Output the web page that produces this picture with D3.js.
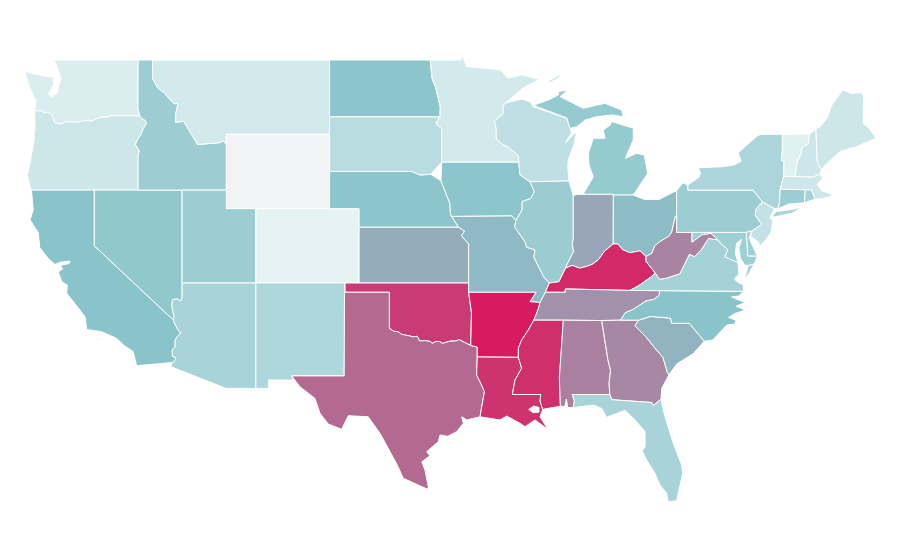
<!DOCTYPE html>
<html>
<head>
<meta charset="utf-8">
<script src="https://cdn.jsdelivr.net/npm/d3@7"></script>
<style>
  html, body { margin: 0; background: #fff; }
  path.state { stroke: #fff; stroke-width: 1; stroke-linejoin: round; fill-rule: evenodd; }
</style>
</head>
<body>
<svg id="map" width="900" height="560"></svg>
<script>
// values, 0-100
const stateNames = ["Washington","Oregon","California","Nevada","Idaho","Montana","Wyoming","Utah","Colorado","Arizona","New Mexico","North Dakota","South Dakota","Nebraska","Kansas","Oklahoma","Texas","Minnesota","Iowa","Missouri","Arkansas","Louisiana","Wisconsin","Illinois","Michigan","Indiana","Ohio","Kentucky","Tennessee","Mississippi","Alabama","Georgia","Florida","South Carolina","North Carolina","Virginia","West Virginia","Pennsylvania","New York","Maryland","Delaware","New Jersey","Connecticut","Rhode Island","Massachusetts","Vermont","New Hampshire","Maine"];
const stateValues = [15,20.5,50,47,42,18,0,42,10,37,34,49,30,49,57,90.5,77,18,49,53,100,93,27,43,45,59,52,96,65,94,70,68,37,55,50,38.5,69,42,35.5,41,41,24.5,42,38,20,12,21,20.5];
const colorStops = [0,10,50,100];
const colorRange = ["#f2f3f5","#e5f3f4","#8ac4cb","#d81b60"];

// shared borders, [lon, lat]
const columbia = [[-124.05,46.27],[-123.55,46.26],[-123.37,46.15],[-123.17,46.19],[-122.9,46.08],[-122.8,45.85],[-122.7,45.63],[-122.3,45.55],[-121.9,45.68],[-121.2,45.65],[-120.65,45.74],[-120.2,45.72],[-119.6,45.92],[-119,45.93],[-118.98,46],[-116.92,46]];
const snake = [[-116.92,46],[-116.78,45.85],[-116.55,45.75],[-116.46,45.6],[-116.67,45.32],[-116.85,44.95],[-117.05,44.75],[-117.22,44.45],[-117.03,44.24],[-116.95,44.1],[-117.03,43.83],[-117.03,42]];
const idMt = [[-116.05,49],[-116.05,48],[-115.7,47.5],[-115.3,47.25],[-114.95,46.95],[-114.6,46.65],[-114.33,46.65],[-114.47,46.15],[-114.5,45.65],[-113.95,45.7],[-113.8,45.52],[-113.45,45.05],[-113.1,44.6],[-113,44.45],[-112.3,44.5],[-111.5,44.55],[-111.25,44.65],[-111.05,44.47]];
const nvAz = [[-114.05,37],[-114.05,36.2],[-114.15,36.03],[-114.4,36.15],[-114.7,36.1],[-114.75,35.8],[-114.68,35.5],[-114.58,35.15],[-114.63,35]];
const caAz = [[-114.63,35],[-114.57,34.85],[-114.3,34.45],[-114.14,34.3],[-114.4,34.1],[-114.53,33.9],[-114.52,33.55],[-114.72,33.4],[-114.7,33.05],[-114.5,33],[-114.47,32.9],[-114.72,32.72]];
const redRiver = [[-100,34.56],[-99.7,34.4],[-99.4,34.38],[-99.2,34.25],[-98.95,34.2],[-98.6,34.15],[-98.4,34.1],[-98.1,34.13],[-97.95,33.88],[-97.6,33.9],[-97.2,33.85],[-97.1,33.75],[-96.85,33.85],[-96.6,33.85],[-96.4,33.75],[-95.9,33.87],[-95.5,33.88],[-95.25,33.95],[-94.9,33.8],[-94.48,33.64]];
const sabine = [[-94.04,33.02],[-94.08,32.05],[-93.8,31.6],[-93.55,31.15],[-93.7,30.5],[-93.85,29.8]];
const mnWi = [[-92.16,46.67],[-92.29,46.5],[-92.29,46.1],[-92.87,45.7],[-92.75,45.3],[-92.75,44.75],[-92.3,44.45],[-91.9,44.3],[-91.25,43.85],[-91.22,43.5]];
const iaWi = [[-91.22,43.5],[-91.14,42.81],[-90.46,42.45]];
const iaIl = [[-90.46,42.45],[-90.17,41.91],[-90.4,41.55],[-91,41.38],[-91,40.93],[-91.42,40.38]];
const moIl = [[-91.42,40.38],[-91.5,40],[-90.8,39.22],[-90.7,38.93],[-90.12,38.78],[-90.2,38.4],[-89.9,37.9],[-89.5,37.3],[-89.15,37]];
const arTn = [[-89.78,35.95],[-89.9,35.6],[-90.1,35.2],[-90.2,35]];
const arMs = [[-90.2,35],[-90.58,34.47],[-91.03,33.93],[-91.25,33.49],[-91.25,33]];
const laMs = [[-91.25,33],[-91.03,32.41],[-91.48,31.78],[-91.66,31]];
const pearl = [[-91.66,31],[-89.73,31],[-89.78,30.65],[-89.6,30.2]];
const ohioIl = [[-89.15,37],[-88.5,37.07],[-88.05,37.8]];
const ohioIn = [[-88.05,37.8],[-87.6,37.95],[-87.1,37.8],[-86.6,37.9],[-86.25,38],[-85.8,38.27],[-85.4,38.72],[-84.82,39.1]];
const ohioOh = [[-84.82,39.1],[-84.5,39.1],[-84.2,38.8],[-83.7,38.63],[-83,38.73],[-82.6,38.42]];
const ohioWv = [[-82.6,38.42],[-82.2,38.6],[-82,39],[-81.7,39.2],[-81,39.55],[-80.85,39.75],[-80.6,40.6],[-80.52,40.64]];
const wabash = [[-87.53,41.7],[-87.53,39.35],[-87.6,39.1],[-87.5,38.7],[-87.95,38],[-88.05,37.8]];
const kyWv = [[-82.6,38.42],[-82.6,38.17],[-81.97,37.54]];
const kyVa = [[-81.97,37.54],[-82.3,37.3],[-83.1,36.85],[-83.68,36.6]];
const tnNc = [[-81.68,36.59],[-81.7,36.35],[-82.05,36.12],[-82.6,36.03],[-83.1,35.77],[-83.5,35.57],[-84,35.4],[-84.32,35]];
const ncSc = [[-78.65,33.87],[-79.66,34.83],[-80.86,34.83],[-80.93,35.1],[-81.09,35.12],[-82.3,35.2],[-83.1,35]];
const savannah = [[-83.1,35],[-83.35,34.7],[-82.6,34.1],[-82,33.5],[-81.45,33],[-81.15,32.2],[-81.05,32.05]];
const gaAl = [[-85.6,34.98],[-85.18,32.87],[-85,32.3],[-85.1,31.6],[-85.05,31]];
const gaFl = [[-85.05,31],[-84.92,30.72],[-82.2,30.57],[-82.1,30.4],[-81.58,30.75]];
const alFl = [[-85.05,31],[-87.6,31],[-87.45,30.65],[-87.53,30.3]];
const vaWv = [[-77.72,39.32],[-78.35,39.4],[-78.85,38.8],[-79.3,38.42],[-79.65,38.55],[-80.3,37.5],[-81.25,37.25],[-81.68,37.2],[-81.97,37.54]];
const potomacN = [[-77.72,39.32],[-78.2,39.68],[-78.8,39.6],[-79.48,39.2]];
const potomacS = [[-77.72,39.32],[-77.5,39.1],[-77.05,38.8],[-77.25,38.4],[-76.95,38.3],[-76.35,38.1]];
const delaware = [[-75.35,42],[-74.7,41.36],[-75.13,40.98],[-75.2,40.65],[-74.73,40.15],[-75.42,39.8]];
const ctRiver = [[-71.5,45.01],[-71.6,44.5],[-72.05,44.25],[-72.05,44],[-72.3,43.6],[-72.45,43],[-72.46,42.73]];
const nyVt = [[-73.35,45],[-73.35,44.2],[-73.43,43.6],[-73.25,43.55],[-73.26,42.75]];
const missouriSd = [[-96.45,43.5],[-96.5,42.5]];
const missouriNe = [[-96.5,42.5],[-96.1,41.7],[-95.9,41.3],[-95.85,40.7],[-95.77,40.58]];
const moKs = [[-95.77,40.58],[-95.3,40],[-94.9,39.8],[-95.1,39.55],[-94.9,39.35],[-94.62,39.1]];
const redNorth = [[-97.23,49],[-97.1,48],[-96.85,47.5],[-96.55,46.5],[-96.56,45.94]];
const mnSd = [[-96.56,45.94],[-96.85,45.6],[-96.45,45.3],[-96.45,43.5]];

const rev = a => a.slice().reverse();
const ring = (...parts) => parts.flat();

// each state is a list of rings
const stateRings = {
  "Washington": [ring([[-122.76,49],[-117.03,49],[-117.04,46.42]], rev(columbia), [[-123.95,46.85],[-124.1,47],[-124.35,47.45],[-124.72,48.38],[-123.23,48.1],[-122.8,48.1],[-122.75,47.7],[-123.1,47.2],[-122.95,47.03],[-122.5,47.2],[-122.4,47.7],[-122.25,47.95],[-122.45,48.5],[-122.6,48.8]])],
  "Oregon": [ring(columbia, snake, [[-124.3,42],[-124.54,42.8],[-124.4,43.3],[-124.1,44.6],[-124.02,45.4]])],
  "California": [
    ring([[-124.3,42],[-120,42],[-120,39]], caAz, [[-117.13,32.55],[-117.36,33.3],[-118,33.65],[-118.48,34.02],[-119.5,34.38],[-120.52,34.5],[-120.63,35.19],[-121.87,36.45],[-121.83,36.89],[-122.2,37.07],[-122.45,37.6],[-122.15,37.75],[-122.3,37.95],[-121.7,38.05],[-121.65,38.18],[-122.3,38.12],[-122.67,38],[-123.1,38.3],[-123.7,38.9],[-123.8,39.7],[-124.36,40.4],[-124.14,40.93],[-124.25,41.9]]),
    [[-119.9,34],[-119.55,34],[-119.55,33.95],[-119.9,33.95]]
  ],
  "Nevada": [ring([[-120,42],[-114.05,42]], nvAz, [[-120,39]])],
  "Idaho": [ring([[-117.03,49]], idMt, [[-111.05,42]], rev(snake), [[-117.04,46.42]])],
  "Montana": [ring(idMt, [[-111.05,45],[-104.05,45],[-104.05,49]])],
  "Wyoming": [[[-111.05,45],[-104.05,45],[-104.05,41],[-111.05,41]]],
  "Utah": [[[-114.05,42],[-111.05,42],[-111.05,41],[-109.05,41],[-109.05,37],[-114.05,37]]],
  "Colorado": [[[-109.05,41],[-102.05,41],[-102.05,37],[-109.05,37]]],
  "Arizona": [ring([[-114.05,37],[-109.05,37],[-109.05,31.33],[-111.07,31.33],[-114.81,32.5]], rev(caAz), rev(nvAz))],
  "New Mexico": [[[-109.05,37],[-103,37],[-103.06,32],[-106.62,32],[-106.53,31.78],[-108.2,31.78],[-108.2,31.33],[-109.05,31.33]]],
  "North Dakota": [ring([[-104.05,49]], redNorth, [[-104.05,45.94]])],
  "South Dakota": [ring([[-104.05,45.94]], mnSd, rev(missouriSd), [[-97.2,42.85],[-97.9,42.8],[-98.5,43],[-104.05,43]])],
  "Nebraska": [ring([[-104.05,43],[-98.5,43],[-97.9,42.8],[-97.2,42.85]], missouriNe, [[-95.3,40],[-102.05,40],[-102.05,41],[-104.05,41]])],
  "Kansas": [ring([[-102.05,40]], moKs.slice(1), [[-94.62,37],[-102.05,37]])],
  "Oklahoma": [ring([[-103,37],[-94.62,37],[-94.62,36.5],[-94.43,35.4]], rev(redRiver), [[-100,36.5],[-103,36.5]])],
  "Texas": [ring([[-103.04,36.5],[-100,36.5]], redRiver, [[-94.04,33.55]], sabine, [[-94.75,29.63],[-95.09,29.8],[-94.98,29.45],[-95.43,29],[-96.05,28.75],[-96.56,28.82],[-96.68,28.46],[-97.47,27.92],[-97.25,27.7],[-97.8,27.38],[-97.58,26.93],[-97.36,26.04],[-97.4,25.9],[-99.05,26.49],[-99.46,27.2],[-99.95,27.92],[-100.63,28.91],[-101.43,29.8],[-102.78,29.86],[-103.23,29.13],[-104.14,29.41],[-104.7,29.99],[-105.04,30.79],[-106.06,31.42],[-106.62,32],[-103.06,32]])],
  "Minnesota": [ring([[-97.23,49],[-95.15,49],[-95.09,49.3],[-94.75,48.64],[-93.5,48.56],[-92.5,48.47],[-91.93,48.02],[-91.03,48.2],[-89.8,47.96],[-90.92,47.5]], mnWi, rev(mnSd), rev(redNorth))],
  "Iowa": [ring([[-96.45,43.5]], iaWi, iaIl, [[-91.73,40.61]], rev(missouriNe))],
  "Missouri": [ring([[-95.77,40.58],[-91.73,40.61]], moIl, [[-89.42,36.5],[-89.78,35.95],[-90.46,36],[-90.05,36.5],[-94.62,36.5]], rev(moKs))],
  "Arkansas": [ring([[-94.62,36.5],[-90.05,36.5],[-90.46,36]], arTn, arMs, [[-94.04,33.02],[-94.04,33.55],[-94.48,33.64],[-94.43,35.4]])],
  "Louisiana": [ring([[-94.04,33.02]], laMs, pearl, [[-89.78,29.8],[-89.25,29.12],[-90.12,29.63],[-90.8,29.27],[-91.14,29.45],[-92.04,29.84],[-92.5,29.63],[-93.85,29.8]], rev(sabine).slice(1)), [[-90.55,30.2],[-90.2,30.38],[-89.85,30.3],[-89.85,30.05],[-90.25,30.02]]],
  "Wisconsin": [ring(mnWi, iaWi, [[-87.82,42.49],[-87.9,43.26],[-87.87,43.62],[-87.5,44.4],[-87.3,45.14],[-87.7,44.85],[-88.04,44.55],[-87.65,45.1],[-87.75,45.33],[-87.97,45.86],[-90.24,46.49],[-90.4,46.72],[-91,46.9]])],
  "Illinois": [ring(iaIl, moIl, ohioIl, rev(wabash), [[-87.82,42.49]])],
  "Michigan": [
    [[-90.24,46.56],[-87.97,45.88],[-87.75,45.33],[-87.3,45.4],[-86.73,45.77],[-85.93,45.95],[-84.92,46.04],[-84.13,45.95],[-84.25,46.31],[-84.81,46.49],[-85.38,46.67],[-86.85,46.4],[-87.97,46.85],[-88.42,47.03],[-87.87,47.39],[-88.54,47.3],[-88.54,47.12],[-89.22,46.85]],
    [[-86.87,41.77],[-84.81,41.77],[-84.81,41.73],[-83.46,41.73],[-83.15,42.1],[-82.48,42.9],[-82.72,43.89],[-83.23,43.98],[-84,43.71],[-83.46,44.7],[-83.46,45.33],[-84.92,45.69],[-85.03,45.5],[-85.49,45.23],[-85.38,44.79],[-86.17,44.79],[-86.5,43.98],[-86.46,43.35],[-86.17,42.72],[-86.62,42.1]],
    [[-89.2,47.85],[-88.5,48.17],[-88.45,48.1],[-89.1,47.8]]
  ],
  "Indiana": [ring(wabash, ohioIn, [[-84.81,41.77],[-87.3,41.77]])],
  "Ohio": [ring([[-84.81,41.73],[-83.46,41.73],[-82.7,41.5],[-81.7,41.5],[-80.52,41.98]], rev(ohioWv), rev(ohioOh))],
  "Kentucky": [ring(ohioIl, ohioIn, ohioOh, kyWv, kyVa, [[-88.07,36.68],[-88.07,36.5],[-89.42,36.5]])],
  "Tennessee": [ring([[-89.42,36.5],[-88.07,36.5],[-88.07,36.68],[-83.68,36.6]], tnNc, [[-85.6,34.98],[-88.2,35]], rev(arTn))],
  "Mississippi": [ring([[-90.2,35],[-88.2,35],[-88.47,31.9],[-88.4,30.37]], rev(pearl), rev(laMs), rev(arMs))],
  "Alabama": [ring([[-88.2,35]], gaAl, alFl, [[-87.9,30.3],[-88,30.75],[-88.1,30.35],[-88.4,30.37],[-88.47,31.9]])],
  "Georgia": [ring([[-85.6,34.98],[-84.32,35]], savannah, [[-81.53,31.33]], rev(gaFl), rev(gaAl))],
  "Florida": [ring(gaFl, [[-81.53,30.52],[-81.31,29.8],[-80.75,28.37],[-80.18,27.2],[-80.11,26.76],[-80.52,25.28],[-81.09,25.23],[-81.2,25.68],[-81.65,26.13],[-81.99,26.76],[-82.55,27.47],[-82.85,27.97],[-82.66,28.19],[-82.66,29],[-83.34,29.63],[-84.03,30.15],[-84.59,29.98],[-85.26,29.77],[-85.6,30.25],[-86.17,30.43]], rev(alFl))],
  "South Carolina": [ring(ncSc, savannah, [[-80.52,32.64],[-79.39,33.2]])],
  "North Carolina": [ring([[-81.68,36.59],[-76,36.55],[-76.3,36.3],[-76.8,36.25],[-76.2,36.05],[-75.85,35.95],[-76.5,35.75],[-75.85,35.55],[-76.6,35.35],[-77,35.15],[-76.5,35],[-76.56,34.79],[-77.12,34.74],[-78.07,33.93]], ncSc, [[-84.32,35]], rev(tnNc))],
  "Virginia": [
    ring(rev(kyVa), rev(vaWv), potomacS, [[-76.35,37.95],[-76.3,37.5],[-76.6,37.2],[-76.3,37],[-76,36.92],[-76,36.55],[-81.68,36.59]]),
    [[-75.65,37.95],[-75.25,38.03],[-75.6,37.55],[-75.95,37.15]]
  ],
  "West Virginia": [ring(rev(ohioWv), kyWv, rev(vaWv), potomacN, [[-79.48,39.72],[-80.52,39.72]])],
  "Pennsylvania": [ring([[-80.52,41.98],[-80.08,42.39],[-79.76,42.27],[-79.76,42]], delaware, [[-75.79,39.72],[-79.48,39.72],[-80.52,39.72],[-80.52,40.64]])],
  "New York": [
    ring([[-79.76,42.27],[-79,42.7],[-78.9,42.9],[-79.05,43.2],[-77.5,43.25],[-76.6,43.35],[-76.15,43.55],[-76.35,44],[-75.8,44.4],[-75,44.95],[-74.7,45]], nyVt, [[-73.5,42.05],[-73.55,41.3],[-73.65,41],[-73.9,41],[-74.7,41.36],[-75.35,42],[-79.76,42]]),
    [[-74.05,40.6],[-73.75,40.85],[-72.6,40.97],[-72,41.1],[-72.7,40.75],[-73.9,40.55]]
  ],
  "Maryland": [ring([[-79.48,39.72],[-75.79,39.72],[-75.7,38.46],[-75.05,38.45],[-75.25,38.03],[-75.65,37.95],[-75.9,37.95],[-76.2,38.35],[-76.3,38.9],[-76.1,39.35],[-76.45,39.15],[-76.55,38.6]], rev(potomacS), potomacN)],
  "Delaware": [[[-75.79,39.72],[-75.42,39.8],[-75.6,39.45],[-75.4,39.05],[-75.05,38.45],[-75.7,38.46]]],
  "New Jersey": [ring([[-74.7,41.36],[-73.9,41],[-74.2,40.5],[-74,40.4],[-74.1,39.75],[-74.4,39.4],[-74.9,38.95],[-74.95,39.2],[-75.5,39.5]], rev(delaware).slice(0,-2))],
  "Connecticut": [[[-73.5,42.05],[-71.8,42.02],[-71.85,41.32],[-72.9,41.25],[-73.65,41],[-73.55,41.3]]],
  "Rhode Island": [[[-71.8,42.02],[-71.38,42.02],[-71.12,41.5],[-71.4,41.45],[-71.85,41.32]]],
  "Massachusetts": [[[-73.5,42.05],[-73.26,42.75],[-72.46,42.73],[-71.3,42.7],[-70.82,42.87],[-70.6,42.65],[-71,42.3],[-70.65,41.95],[-70.05,41.8],[-70,41.65],[-70.65,41.55],[-71.12,41.5],[-71.38,42.02],[-71.8,42.02]]],
  "Vermont": [ring(nyVt, rev(ctRiver))],
  "New Hampshire": [ring(ctRiver, [[-71.3,42.7],[-70.82,42.87],[-70.7,43.07],[-70.98,43.5],[-71.08,45.3]])],
  "Maine": [[[-71.08,45.3],[-70.8,45.4],[-70.3,45.9],[-70,46.58],[-69.26,47.39],[-68.66,47.2],[-68,47.25],[-67.85,47.07],[-67.87,45.6],[-67.45,45.3],[-66.99,44.79],[-68.32,44.34],[-69.45,44.07],[-70.56,43.26],[-70.7,43.07],[-70.98,43.5]]]
};

const x = d3.scaleLinear().domain([-124.7,-66.95]).range([25,876.8]);
const y = d3.scaleLinear().domain([49,37]).range([60,283]);
const color = d3.scaleLinear().domain(colorStops).range(colorRange);

const flat = d3.geoTransform({
  point(lon, lat) { this.stream.point(x(lon), y(lat)); }
});
const path = d3.geoPath(flat);

const features = stateNames.map((name, i) => ({
  type: "Feature",
  properties: { name, value: stateValues[i] },
  geometry: { type: "MultiPolygon", coordinates: stateRings[name].map(r => [r.concat([r[0]])]) }
}));

d3.select("#map").selectAll("path")
  .data(features)
  .join("path")
  .attr("class", "state")
  .attr("d", path)
  .attr("fill", d => color(d.properties.value))
  .append("title").text(d => d.properties.name);
</script>
</body>
</html>
